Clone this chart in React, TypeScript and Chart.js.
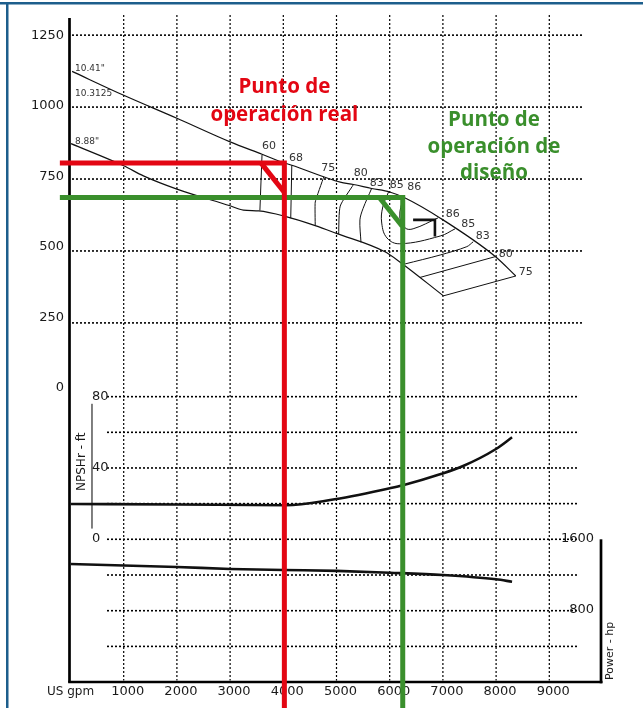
import React, { useEffect, useRef } from 'react';
import { Chart, registerables } from 'chart.js';
Chart.register(...registerables);

const W = 643;
const H = 708;

// ---- axes / ticks ----
const gpmTicks = [0, 1000, 2000, 3000, 4000, 5000, 6000, 7000, 8000, 9000];
const gpmLabels = ['US gpm', '1000', '2000', '3000', '4000', '5000', '6000', '7000', '8000', '9000'];
const headTicks = [0, 250, 500, 750, 1000, 1250];
const headGrid = [250, 500, 750, 1000, 1250];
const npshTicks = [0, 40, 80];
const npshGrid = [0, 20, 40, 60, 80];
const powerTicks = [800, 1600];
const powerGrid = [400, 800, 1200];

// ---- head curves (US gpm, ft) ----
const flow1041 = [30, 1000, 2000, 3000, 3600, 4000, 4160, 4770, 5070, 5320, 5660, 6000, 6290, 6960, 7990, 8370];
const head1041 = [1124, 1041, 961, 879, 836, 807, 798, 757, 739, 731, 717, 705, 684, 613, 480, 413];
const flow888 = [10, 1000, 1370, 2000, 3000, 3250, 3540, 4020, 4600, 5000, 5910, 6190, 7010];
const head888 = [873, 796, 761, 715, 657, 642, 639, 621, 588, 561, 497, 462, 344];

// ---- efficiency contours [gpm, ft] ----
const eff60 = [[3600, 834], [3560, 641]];
const eff68 = [[4160, 798], [4140, 614]];
const eff75 = [[4760, 757], [4600, 670], [4600, 588]];
const eff80 = [[5320, 731], [5070, 656], [5040, 559]];
const eff83 = [[5660, 717], [5500, 648], [5440, 608], [5460, 530]];
const eff85 = [[5980, 706], [5870, 653], [5850, 597], [5950, 545], [6190, 525], [6950, 552], [7230, 577]];
const eff86 = [[6250, 686], [6190, 618], [6290, 580], [6440, 577], [6910, 615]];
const eff83r = [[6290, 455], [6950, 486], [7450, 515], [7570, 532]];
const eff80r = [[6570, 408], [7980, 480]];
const eff75r = [[7010, 344], [8370, 413]];
const bepMark = [[6440, 608], [6850, 608], [6850, 550]];

// ---- efficiency / impeller labels ----
const effText = ['60', '68', '75', '80', '83', '85', '86', '86', '85', '83', '80', '75'];
const effFlow = [3731, 4239, 4846, 5455, 5756, 6132, 6462, 7184, 7477, 7748, 8180, 8556];
const effHead = [865, 822, 787, 770, 736, 729, 721, 628, 594, 552, 489, 426];
const impText = ['10.41"', '10.3125', '8.88"'];
const impFlow = [85, 85, 85];
const impHead = [1135, 1048, 880];

// ---- NPSHr and power ----
const flowNpsh = [0, 2000, 4050, 4880, 6000, 6250, 6960, 7380, 7990, 8300];
const npshR = [19.8, 19.5, 19.1, 22.0, 28.6, 30.3, 36.6, 41.1, 50.5, 57.2];
const flowPower = [0, 2000, 3000, 4000, 5000, 6000, 7000, 8000, 8300];
const powerHp = [1323, 1290, 1268, 1256, 1246, 1226, 1200, 1152, 1125];

// ---- operating points ----
const realFlow = 4020;
const realHead = 806;
const designFlow = 6245;
const designHead = 686;
const realTitle = ['Punto de', 'operación real'];
const realTitleHead = [1068, 972];
const designTitle = ['Punto de', 'operación de', 'diseño'];
const designTitleFlow = 7960;
const designTitleHead = [954, 862, 769];

const RED = '#e30613';
const GREEN = '#3a8f2c';
const TICK_FONT = '13px "DejaVu Sans"';

const pts = (fl: number[], vals: number[]) => fl.map((f, i) => ({ x: f, y: vals[i] }));
const pairs = (p: number[][]) => p.map(([x, y]) => ({ x, y }));

function seg(ctx: CanvasRenderingContext2D, x1: number, y1: number, x2: number, y2: number) {
  ctx.beginPath();
  ctx.moveTo(x1, y1);
  ctx.lineTo(x2, y2);
  ctx.stroke();
}

function txt(ctx: CanvasRenderingContext2D, s: string, x: number, y: number, font: string, color: string, align: CanvasTextAlign = 'center') {
  ctx.font = font;
  ctx.fillStyle = color;
  ctx.textAlign = align;
  ctx.textBaseline = 'middle';
  ctx.fillText(s, x, y);
}

const decorPlugin = {
  id: 'decor',
  beforeDatasetsDraw(chart: any) {
    const { ctx, chartArea: ca, scales } = chart;
    const X = scales.x, Hs = scales.y, N = scales.npsh, P = scales.power;
    ctx.save();

    // frame
    ctx.fillStyle = '#1d5e8c';
    ctx.fillRect(0, 2, W, 2.5);
    ctx.fillRect(6, 2, 2.5, H - 2);

    // dotted grid
    ctx.strokeStyle = '#000';
    ctx.setLineDash([2, 2]);
    ctx.lineWidth = 1.2;
    for (const v of gpmTicks.slice(1)) {
      const x = X.getPixelForValue(v);
      seg(ctx, x, ca.top, x, ca.bottom - 2);
    }
    ctx.lineWidth = 1.6;
    for (const v of headGrid) {
      const y = Hs.getPixelForValue(v);
      seg(ctx, X.getPixelForValue(28), y, X.getPixelForValue(9633), y);
    }
    for (const v of npshGrid) {
      const y = N.getPixelForValue(v);
      seg(ctx, X.getPixelForValue(686), y, X.getPixelForValue(9558), y);
    }
    for (const v of powerGrid) {
      const y = P.getPixelForValue(v);
      seg(ctx, X.getPixelForValue(686), y, X.getPixelForValue(9558), y);
    }
    ctx.setLineDash([]);

    // main axes
    ctx.lineWidth = 2.7;
    const x0 = X.getPixelForValue(0) - 1;
    seg(ctx, x0, Hs.getPixelForValue(1310), x0, ca.bottom);
    const yb = ca.bottom - 0.6;
    seg(ctx, x0 - 1.3, yb, ca.right, yb);
    // power axis
    const xr = X.getPixelForValue(10000) - 1.5;
    seg(ctx, xr, P.getPixelForValue(1600), xr, yb + 1.3);
    // NPSH axis
    ctx.lineWidth = 1;
    const xn = X.getPixelForValue(404);
    seg(ctx, xn, N.getPixelForValue(76), xn, N.getPixelForValue(6));

    // tick labels
    const tc = '#1a1a1a';
    gpmTicks.forEach((v, i) => {
      if (i === 0) txt(ctx, gpmLabels[i], X.getPixelForValue(v), ca.bottom + 9, '12px "DejaVu Sans"', tc);
      else txt(ctx, gpmLabels[i], X.getPixelForValue(v) + 4, ca.bottom + 9, TICK_FONT, tc);
    });
    headTicks.forEach((v) => {
      const drift = 7 * (1 - v / 1250);
      txt(ctx, String(v), 64, Hs.getPixelForValue(v) - drift, TICK_FONT, tc, 'right');
    });
    npshTicks.forEach((v) => {
      txt(ctx, String(v), xn, N.getPixelForValue(v) - (v === 0 ? 1 : 0), TICK_FONT, tc, 'left');
    });
    powerTicks.forEach((v) => {
      txt(ctx, String(v), xr - 7, P.getPixelForValue(v) - 1, TICK_FONT, tc, 'right');
    });

    // axis titles (rotated)
    ctx.save();
    ctx.translate(X.getPixelForValue(216), N.getPixelForValue(43.5));
    ctx.rotate(-Math.PI / 2);
    txt(ctx, 'NPSHr - ft', 0, 0, '12px "DejaVu Sans"', tc);
    ctx.restore();
    ctx.save();
    ctx.translate(xr + 9, P.getPixelForValue(350));
    ctx.rotate(-Math.PI / 2);
    txt(ctx, 'Power - hp', 0, 0, '11px "DejaVu Sans"', tc);
    ctx.restore();

    // impeller labels
    impText.forEach((s, i) => {
      txt(ctx, s, X.getPixelForValue(impFlow[i]), Hs.getPixelForValue(impHead[i]), '9px "DejaVu Sans"', '#333', 'left');
    });
    // efficiency labels
    effText.forEach((s, i) => {
      txt(ctx, s, X.getPixelForValue(effFlow[i]), Hs.getPixelForValue(effHead[i]), '11px "DejaVu Sans"', '#333');
    });

    // titles
    const tf = '700 20.5px "Open Sans"';
    realTitle.forEach((s, i) => {
      txt(ctx, s, X.getPixelForValue(realFlow), Hs.getPixelForValue(realTitleHead[i]), tf, RED);
    });
    designTitle.forEach((s, i) => {
      txt(ctx, s, X.getPixelForValue(designTitleFlow), Hs.getPixelForValue(designTitleHead[i]), tf, GREEN);
    });

    ctx.restore();
  },
};

const base = { pointRadius: 0, fill: false, borderColor: '#111', yAxisID: 'y', order: 2 };

function buildDatasets() {
  const ds: any[] = [];
  ds.push({ ...base, label: '10.41"', data: pts(flow1041, head1041), borderWidth: 1.2, cubicInterpolationMode: 'monotone' });
  ds.push({ ...base, label: '8.88"', data: pts(flow888, head888), borderWidth: 1.2, cubicInterpolationMode: 'monotone' });
  const contours: [string, number[][], number][] = [
    ['60', eff60, 0], ['68', eff68, 0], ['75', eff75, 0.1], ['80', eff80, 0.2], ['83', eff83, 0.3],
    ['85', eff85, 0.4], ['86', eff86, 0.4], ['83r', eff83r, 0.3], ['80r', eff80r, 0], ['75r', eff75r, 0],
  ];
  contours.forEach(([l, d, t]) => ds.push({ ...base, label: 'eff' + l, data: pairs(d), borderWidth: 1, tension: t }));
  ds.push({ ...base, label: 'BEP', data: pairs(bepMark), borderWidth: 2.6, tension: 0, borderJoinStyle: 'miter' });
  ds.push({ ...base, label: 'NPSHr', yAxisID: 'npsh', data: pts(flowNpsh, npshR), borderWidth: 2.6, cubicInterpolationMode: 'monotone' });
  ds.push({ ...base, label: 'Power', yAxisID: 'power', data: pts(flowPower, powerHp), borderWidth: 2.6, cubicInterpolationMode: 'monotone' });

  const op = (flow: number, head: number, color: string) => {
    ds.push({
      ...base, label: 'op-' + color, order: 0, clip: false, borderColor: color, borderWidth: 5, tension: 0,
      borderJoinStyle: 'miter', borderCapStyle: 'butt',
      data: [{ x: -200, y: head }, { x: flow, y: head }, { x: flow, y: -1100 }],
    });
    ds.push({
      ...base, label: 'mark-' + color, order: 0, clip: false, borderColor: color, borderWidth: 5, tension: 0,
      data: [{ x: flow - 440, y: head }, { x: flow - 10, y: head - 100 }],
    });
  };
  op(realFlow, realHead, RED);
  op(designFlow, designHead, GREEN);
  return ds;
}

export default function App() {
  const ref = useRef<HTMLCanvasElement | null>(null);
  useEffect(() => {
    if (!ref.current) return;
    const chart = new Chart(ref.current, {
      type: 'line',
      data: { datasets: buildDatasets() },
      options: {
        animation: false,
        responsive: false,
        events: [],
        layout: { padding: { left: 70.5, right: 40.5, top: 15, bottom: 25.4 } },
        plugins: { legend: { display: false }, tooltip: { enabled: false } },
        scales: {
          x: { type: 'linear', min: 0, max: 10000, display: false },
          y: { type: 'linear', min: -1000, max: 1320, display: false },
          npsh: { type: 'linear', axis: 'y', position: 'left', min: -80.4, max: 294.1, display: false },
          power: { type: 'linear', axis: 'y', position: 'right', min: -5.6, max: 7474.5, display: false },
        },
      } as any,
      plugins: [decorPlugin],
    });
    const f: any = (document as any).fonts;
    if (f && f.load) {
      Promise.all([f.load('700 20px "Open Sans"'), f.load('13px "DejaVu Sans"')]).then(() => chart.update()).catch(() => {});
    }
    return () => chart.destroy();
  }, []);
  return (
    <div style={{ position: 'fixed', left: 0, top: 0, width: W, height: H, background: '#fff' }}>
      <canvas ref={ref} width={W} height={H} style={{ display: 'block', width: W, height: H }} />
    </div>
  );
}
